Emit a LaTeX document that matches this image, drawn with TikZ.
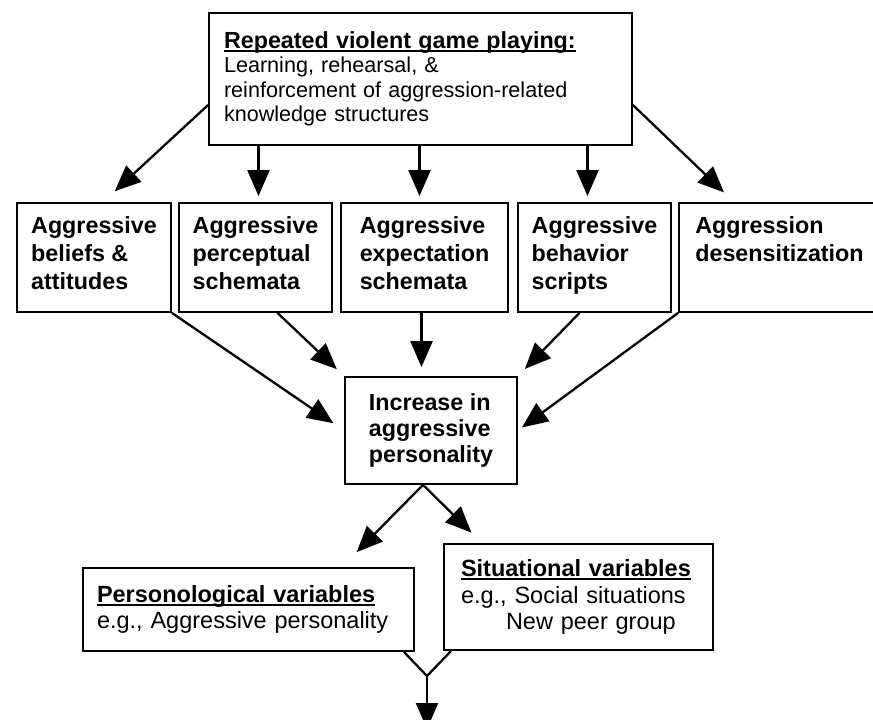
\documentclass[tikz,border=0pt]{standalone}
\usepackage{fontspec}
\setmainfont{Liberation Sans}
\usetikzlibrary{arrows.meta}
\newcommand{\hdr}[1]{\setbox0\hbox{#1}\rlap{\rule[-3.5pt]{\wd0}{1.8pt}}\box0}

\begin{document}
\begin{tikzpicture}[x=1pt,y=-1pt,
    box/.style={draw,line width=1.8pt,align=left,inner xsep=10pt,inner ysep=0pt},
    row/.style={box,minimum height=109pt,font={\fontsize{23.3}{28}\selectfont\bfseries},
      execute at begin node={\rule{0pt}{24.6pt}},execute at end node=\strut},
    >={Triangle[length=26pt,width=22pt]},
    link/.style={line width=2.3pt}]
        \useasboundingbox (0,0) rectangle (873,720);
        \clip (0,0) rectangle (873,720);
        \path
        (420.5,79) node[box,inner xsep=15pt,minimum width=423pt,minimum height=132pt,text width=393pt,
          font={\fontsize{21.6}{24.5}\selectfont}](top)
          {{\bfseries\fontsize{23.3}{24.5}\selectfont\hdr{Repeated violent game playing:}}\\
           Learning, rehearsal, \&\\reinforcement of aggression-related\\knowledge structures}
        (94,257.5) node[row,minimum width=154pt](b1) {Aggressive\\beliefs \&\\attitudes}
        (255.5,257.5) node[row,minimum width=153pt](b2) {Aggressive\\perceptual\\schemata}
        (424.5,257.5) node[row,minimum width=167pt](b3) {Aggressive\\expectation\\schemata}
        (594.5,257.5) node[row,minimum width=153pt](b4) {Aggressive\\behavior\\scripts}
        (779.5,257.5) node[row,minimum width=201pt](b5) {Aggression\\desensitization\\\mbox{}}
        (431,430.5) node[box,minimum width=172pt,minimum height=107pt,
          font={\fontsize{23.3}{26}\selectfont\bfseries}](mid) {Increase in\\aggressive\\personality}
        (248.5,609.5) node[box,inner xsep=14pt,minimum width=331pt,minimum height=83pt,text width=303pt,
          font={\fontsize{23.5}{26}\selectfont}](pers)
          {{\bfseries\hdr{Personological variables}}\\e.g., Aggressive personality}
        (578.5,597) node[box,inner xsep=17pt,minimum width=269pt,minimum height=106pt,text width=235pt,
          font={\fontsize{23.5}{26.5}\selectfont}](sit)
          {{\bfseries\hdr{Situational variables}}\\e.g., Social situations\\\hspace*{45pt}New peer group}
        ;
        \coordinate (join) at (427,676);
        \coordinate (out) at (427,729);

        % top box to the five boxes
        \draw[link,->,shorten >=16pt] ([yshift=-26pt]top.west) -- ([xshift=9pt]b1.north);
        \draw[link,->,shorten >=6pt] ([xshift=3pt]b2.north |- top.south) -- ([xshift=3pt]b2.north);
        \draw[link,->,shorten >=6pt] ([xshift=-5pt]b3.north |- top.south) -- ([xshift=-5pt]b3.north);
        \draw[link,->,shorten >=6pt] ([xshift=-7pt]b4.north |- top.south) -- ([xshift=-7pt]b4.north);
        \draw[link,->,shorten >=14pt] ([yshift=-26pt]top.east) -- ([xshift=56pt]b5.north west);

        % five boxes to the middle box
        \draw[link,->,shorten >=13pt] (b1.south east) -- (mid.west);
        \draw[link,->,shorten >=10pt] ([xshift=22pt]b2.south) -- (mid.north west);
        \draw[link,->,shorten >=9pt] ([xshift=-3pt]b3.south) -- ([xshift=-3pt]b3.south |- mid.north);
        \draw[link,->,shorten >=10pt] ([xshift=-15pt]b4.south) -- (mid.north east);
        \draw[link,->,shorten >=5pt] (b5.south west) -- (mid.east);

        % middle box to the variables
        \draw[link,->,shorten >=21pt] ([xshift=-8pt]mid.south) -- ([xshift=-73pt]pers.north east);
        \draw[link,->,shorten >=15pt] ([xshift=-8pt]mid.south) -- ([xshift=39pt]sit.north west);

        \draw[link] ([xshift=-11pt]pers.south east) -- (join) -- ([xshift=8pt]sit.south west);
        \draw[link,->] (join) -- (out);
      \end{tikzpicture}
\end{document}
